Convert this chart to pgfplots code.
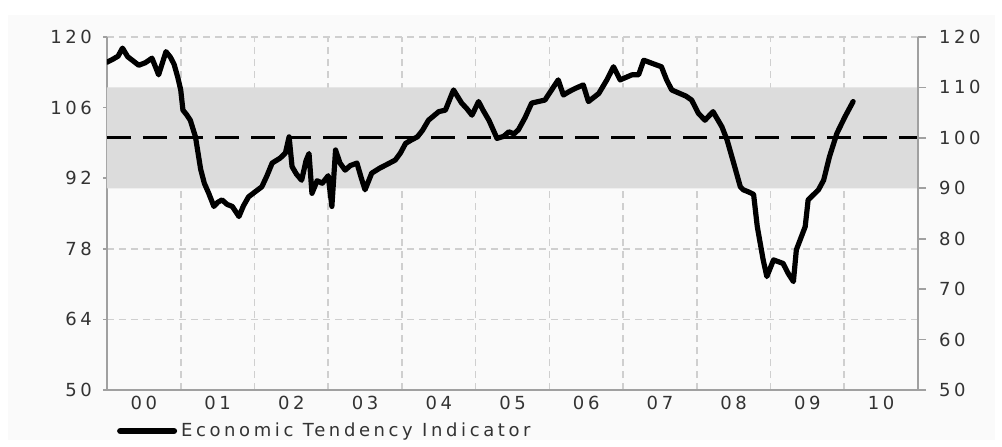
\documentclass[border=0pt]{standalone}
\usepackage{pgfplots}
\pgfplotsset{compat=1.18}
\usepackage{fontspec}
\setmainfont{DejaVu Sans}[LetterSpace=20]
\definecolor{bandgray}{HTML}{DCDCDC}
\definecolor{gridgray}{HTML}{CFCFCF}
\definecolor{axgray}{HTML}{A0A0A0}
\definecolor{txt}{HTML}{333333}
\definecolor{panel}{HTML}{FAFAFA}

\pgfplotstableread{
t v
2000.00 115.0
2000.08 115.6
2000.15 116.2
2000.21 117.8
2000.28 116.1
2000.36 115.2
2000.43 114.4
2000.52 114.9
2000.61 115.8
2000.66 114.0
2000.70 112.5
2000.75 114.8
2000.80 117.1
2000.86 116.0
2000.91 114.6
2000.96 112.0
2001.00 109.5
2001.03 105.5
2001.08 104.6
2001.13 103.5
2001.20 100.2
2001.27 93.8
2001.32 91.0
2001.38 89.0
2001.45 86.4
2001.50 87.2
2001.56 87.7
2001.63 86.8
2001.70 86.4
2001.79 84.4
2001.85 86.5
2001.92 88.3
2002.00 89.2
2002.10 90.3
2002.17 92.5
2002.24 95.0
2002.35 96.0
2002.42 97.0
2002.47 100.2
2002.51 94.3
2002.57 92.8
2002.64 91.6
2002.70 95.5
2002.74 96.9
2002.78 89.0
2002.85 91.5
2002.92 91.0
2003.00 92.5
2003.05 86.4
2003.10 97.6
2003.16 95.0
2003.23 93.6
2003.30 94.5
2003.39 95.0
2003.45 92.0
2003.50 89.7
2003.59 93.0
2003.70 94.0
2003.78 94.6
2003.91 95.6
2003.98 97.0
2004.05 98.9
2004.13 99.6
2004.21 100.2
2004.28 101.5
2004.36 103.5
2004.50 105.2
2004.59 105.5
2004.70 109.5
2004.81 106.9
2004.88 105.8
2004.95 104.5
2005.04 107.2
2005.10 105.5
2005.18 103.5
2005.29 99.9
2005.38 100.3
2005.45 101.2
2005.52 100.8
2005.58 101.6
2005.67 104.0
2005.76 106.9
2005.85 107.2
2005.94 107.5
2006.03 109.5
2006.12 111.5
2006.19 108.5
2006.27 109.2
2006.35 109.8
2006.46 110.5
2006.53 107.2
2006.60 108.0
2006.67 108.8
2006.78 111.5
2006.87 114.1
2006.96 111.5
2007.04 112.0
2007.12 112.5
2007.21 112.5
2007.28 115.4
2007.39 114.8
2007.52 114.1
2007.59 111.5
2007.66 109.5
2007.77 108.8
2007.85 108.3
2007.93 107.5
2008.02 104.9
2008.11 103.5
2008.22 105.2
2008.34 102.2
2008.41 99.6
2008.50 95.0
2008.59 90.3
2008.63 89.7
2008.70 89.3
2008.77 88.8
2008.82 82.4
2008.90 75.8
2008.95 72.5
2009.04 75.8
2009.17 75.1
2009.24 73.1
2009.31 71.5
2009.35 77.8
2009.47 82.4
2009.51 87.7
2009.65 89.7
2009.72 91.6
2009.80 96.3
2009.90 100.9
2010.01 104.2
2010.12 107.2
}\eti

\begin{document}
\begin{tikzpicture}
\fill[panel] (-49.5pt,-25pt) rectangle (444pt,187.5pt);

\begin{axis}[
  name=main,
  scale only axis,
  width=405.5pt, height=176.5pt,
  xmin=2000, xmax=2011,
  ymin=50, ymax=120,
  axis x line*=bottom,
  axis y line*=left,
  axis line style={axgray, line width=1pt, -},
  xtick={2000.5,2001.5,2002.5,2003.5,2004.5,2005.5,2006.5,2007.5,2008.5,2009.5,2010.5},
  xticklabels={00,01,02,03,04,05,06,07,08,09,10},
  minor xtick={2001,2002,...,2010},
  xminorgrids=true,
  ytick={50,64,78,92,106,120},
  ymajorgrids=true,
  grid style={gridgray, line width=0.8pt, dash pattern=on 3.5pt off 2.5pt},
  minor grid style={gridgray, line width=0.8pt, dash pattern=on 3.5pt off 2.5pt},
  x tick style={draw=none},
  y tick style={axgray, line width=0.8pt},
  tick align=outside,
  major tick length=2pt,
  ticklabel style={font=\fontsize{9}{10}\selectfont, text=txt},
  /pgf/number format/assume math mode=true,
  yticklabel style={xshift=-2pt},
  xticklabel style={yshift=2.5pt},
  legend style={at={(0.012,-0.116)}, anchor=west, draw=none, fill=none,
    font=\fontsize{9}{10}\selectfont, text=txt, inner sep=0pt},
  legend cell align=left,
  legend image code/.code={\draw[line width=3pt] (0pt,0pt) -- (27pt,0pt);},
]
\addplot[draw=none, fill=bandgray, forget plot]
  coordinates {(2000,90) (2011,90) (2011,110) (2000,110) (2000,90)};
\addplot[black, line width=1.4pt, dash pattern=on 12pt off 6pt, forget plot]
  coordinates {(2000,100) (2011,100)};
\addplot[black, line width=2.6pt, line join=round, line cap=round]
  table[x=t, y=v] {\eti};
\addlegendentry{Economic Tendency Indicator}
\end{axis}

\begin{axis}[
  scale only axis,
  width=405.5pt, height=176.5pt,
  xmin=2000, xmax=2011,
  ymin=50, ymax=120,
  axis x line=none,
  axis y line*=right,
  axis line style={axgray, line width=1pt, -},
  ytick={50,60,...,120},
  y tick style={axgray, line width=0.8pt},
  tick align=outside,
  major tick length=4pt,
  ticklabel style={font=\fontsize{9}{10}\selectfont, text=txt},
  /pgf/number format/assume math mode=true,
  yticklabel style={xshift=3pt},
]
\end{axis}

\pgfresetboundingbox
\path (-53.5pt,-28pt) rectangle (447.5pt,195pt);
\end{tikzpicture}
\end{document}
